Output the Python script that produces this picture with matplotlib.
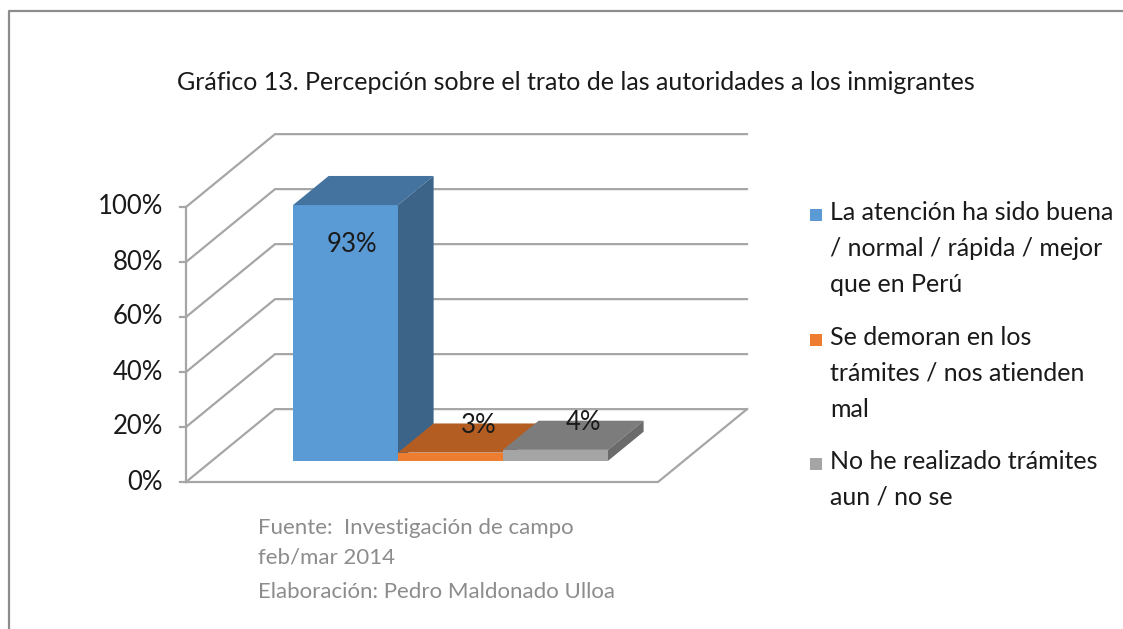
import matplotlib
matplotlib.use("Agg")
import matplotlib.pyplot as plt
from matplotlib.patches import Polygon, Rectangle

plt.rcParams['font.family'] = ['Lato', 'DejaVu Sans']

# datos
categorias = ["La atención ha sido buena\n/ normal / rápida / mejor\nque en Perú",
              "Se demoran en los\ntrámites / nos atienden\nmal",
              "No he realizado trámites\naun / no se"]
valores = [93, 3, 4]
etiquetas = ["93%", "3%", "4%"]
ticks = [0, 20, 40, 60, 80, 100]
titulo = "Gráfico 13. Percepción sobre el trato de las autoridades a los inmigrantes"
fuente = ["Fuente:  Investigación de campo", "feb/mar 2014",
          "Elaboración: Pedro Maldonado Ulloa"]

col_frente = ["#5B9BD5", "#ED7D31", "#A5A5A5"]
col_arriba = ["#4473A0", "#B35D22", "#7C7C7C"]
col_lado = ["#3B6488", "#A9561F", "#6B6B6B"]

W, H = 1123, 629
fig = plt.figure(figsize=(W / 100, H / 100), dpi=100)
ax = fig.add_axes([0, 0, 1, 1])

# escala: 1 categoria = 105 px, 1% = 2.75 px
xL, xR = -1.273, 3.222
ddx, ddy = 0.848, 26.5      # fondo del grafico 3D
f0, f1 = 0.29, 0.69         # profundidad de las barras
ax.set_xlim(xL - 186 / 105, xL + (W - 186) / 105)
ax.set_ylim(-(H - 482) / 2.75, 482 / 2.75)
ax.axis('off')

gc = "#A6A6A6"
lw = 1.6
for v in ticks:
    ax.plot([xL, xL + ddx, xR + ddx], [v, v + ddy, v + ddy], color=gc, lw=lw, zorder=1,
            solid_joinstyle='miter')
    ax.plot([xL - 0.06, xL], [v, v], color=gc, lw=lw, zorder=1)
    ax.text(xL - 0.22, v, f"{v}%", ha='right', va='center', fontsize=18.5, color='#1a1a1a')
ax.plot([xL, xR, xR + ddx], [0, 0, ddy], color=gc, lw=lw, zorder=1)
ax.plot([xL, xL], [0, 100], color=gc, lw=lw, zorder=1)

# barras
for i, v in enumerate(valores):
    x0 = i - 0.5
    x1 = i + 0.5
    ax.add_patch(Rectangle((x0 + f0 * ddx, f0 * ddy), 1, v, facecolor=col_frente[i],
                           edgecolor='none', zorder=3))
    ax.add_patch(Polygon([(x0 + f0 * ddx, v + f0 * ddy), (x1 + f0 * ddx, v + f0 * ddy),
                          (x1 + f1 * ddx, v + f1 * ddy), (x0 + f1 * ddx, v + f1 * ddy)],
                         facecolor=col_arriba[i], edgecolor='none', zorder=3))
    ax.add_patch(Polygon([(x1 + f0 * ddx, f0 * ddy), (x1 + f0 * ddx, v + f0 * ddy),
                          (x1 + f1 * ddx, v + f1 * ddy), (x1 + f1 * ddx, f1 * ddy)],
                         facecolor=col_lado[i], edgecolor='none', zorder=3))
    if v > 50:
        lx, ly = i + f0 * ddx + 0.06, v + f0 * ddy - 14.5
    else:
        lx, ly = i + 0.51, v + f0 * ddy + 10
    ax.text(lx, ly, etiquetas[i], ha='center', va='center', fontsize=18.5,
            color='#1a1a1a', zorder=5)


def fx(px):
    return px / W


def fy(py):
    return 1 - py / H


# marco
fig.add_artist(plt.Line2D([fx(9), fx(9), fx(W + 5)], [fy(H + 5), fy(11), fy(11)],
                          color='#8C8C8C', lw=1.6))

fig.text(fx(576), fy(82), titulo, ha='center', va='center', fontsize=18, color='#1a1a1a')

# leyenda
ley_y = [201, 326, 450]
for i, lab in enumerate(categorias):
    fig.add_artist(Rectangle((fx(810), fy(ley_y[i] + 20)), 12 / W, 12 / H,
                             facecolor=col_frente[i], edgecolor='none',
                             transform=fig.transFigure))
    fig.text(fx(830), fy(ley_y[i]), lab, ha='left', va='top', fontsize=18,
             color='#1a1a1a', linespacing=1.68)

fuente_y = [528, 557, 592]
for t, y in zip(fuente, fuente_y):
    fig.text(fx(258), fy(y), t, ha='left', va='center', fontsize=16, color='#8C8C8C')

fig.savefig("out.png", dpi=100)
